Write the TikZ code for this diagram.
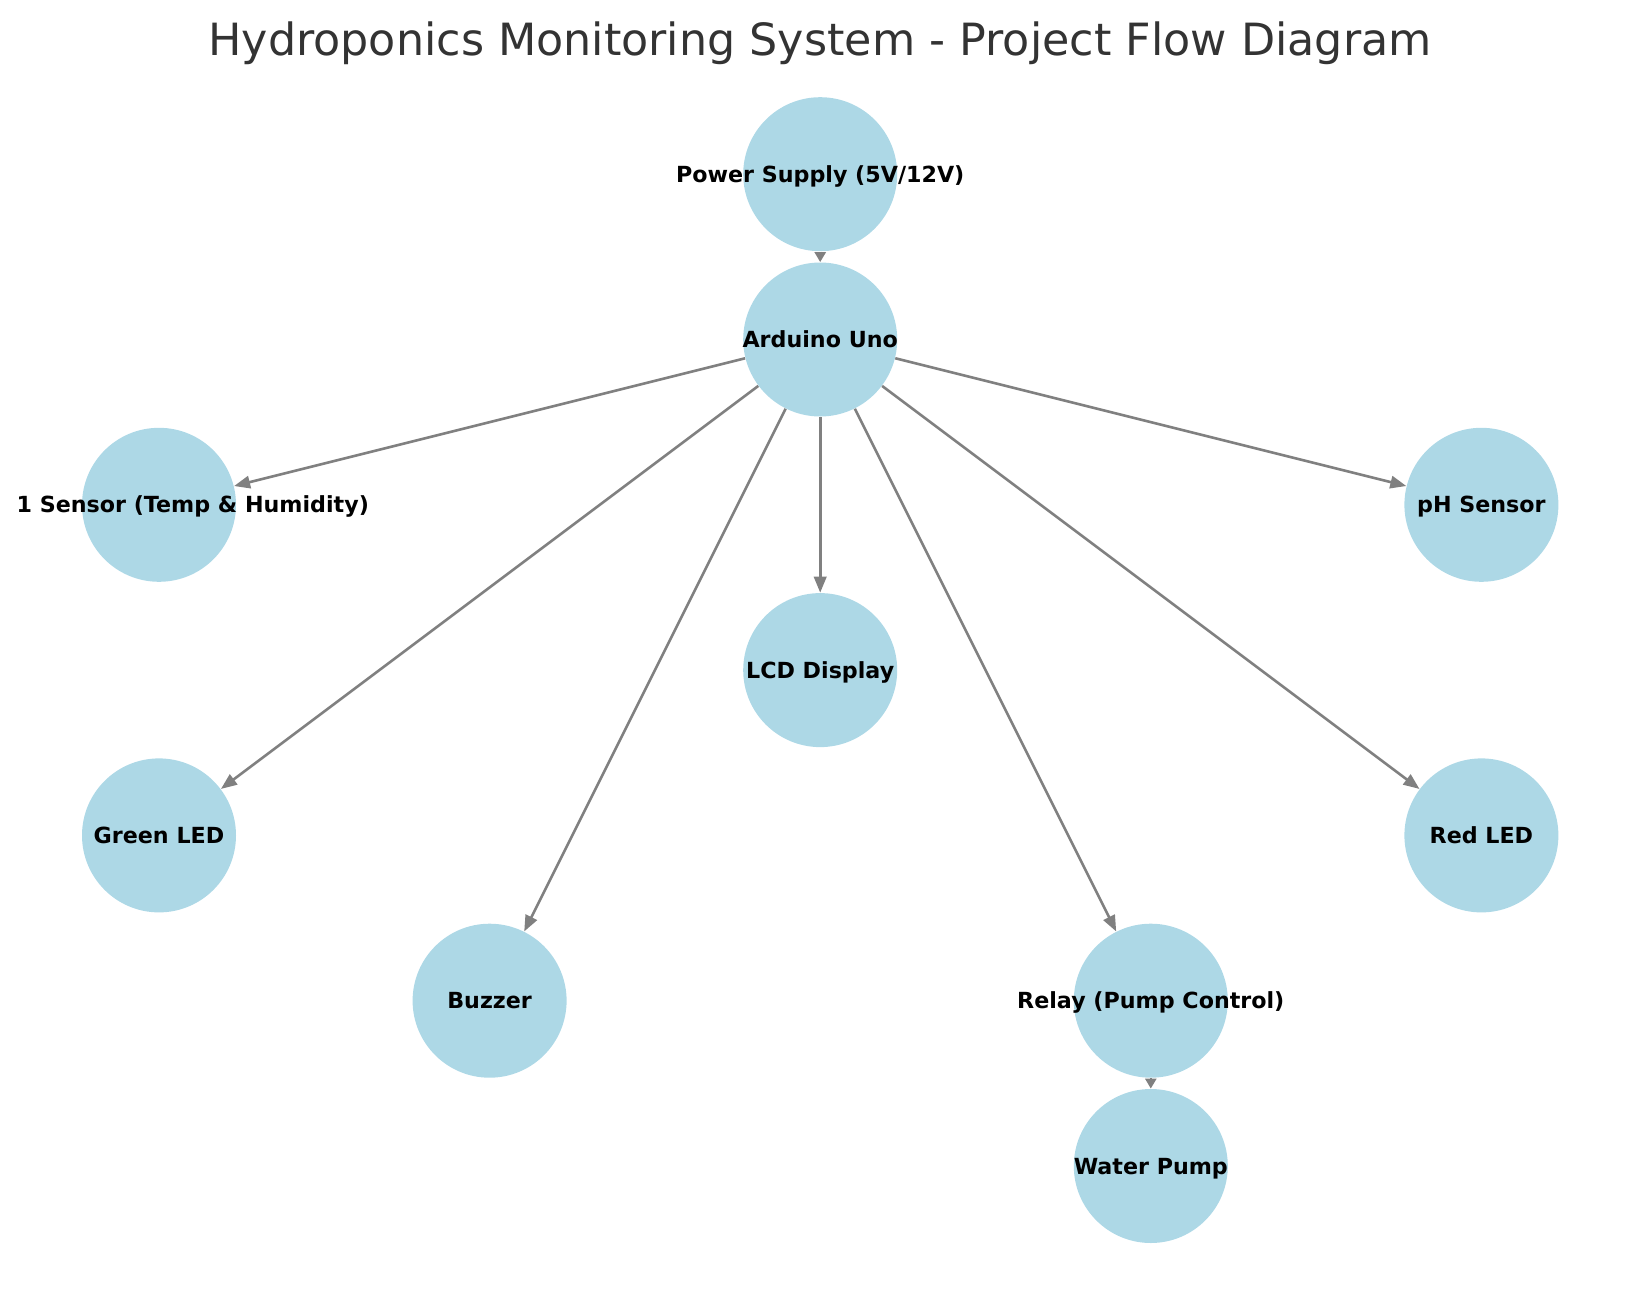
\documentclass[tikz,border=0pt]{standalone}
\usepackage{fontspec}
\setmainfont{DejaVu Sans}
\usetikzlibrary{arrows.meta}
\usepackage{xcolor}
\definecolor{partblue}{HTML}{ADD8E6}
\definecolor{titlegray}{HTML}{333333}
\def\colsep{330.6}
\def\rowsep{165.3}

\begin{document}
\begin{tikzpicture}[x=0.5pt,y=-0.5pt]
    \tikzstyle{part}=[circle,fill=partblue,minimum size=77pt,inner sep=0pt,text height=8pt,text depth=0pt,font=\bfseries\fontsize{11.1}{13}\selectfont]
    \tikzstyle{link}=[-{Triangle[length=8pt,width=6.2pt]},draw=gray,line width=1.3pt]
    \tikzstyle{short link}=[link,-{Triangle[length=5pt,width=5.5pt]}]

    \useasboundingbox (0,0) rectangle (1639,1290);

    \node[font=\fontsize{22.2}{26}\selectfont,text=titlegray,anchor=base] (title) at (820,55) {Hydroponics Monitoring System - Project Flow Diagram};

    \node[part] (power) at (159+2*\colsep,174.2) {\makebox[0pt]{Power Supply (5V/12V)}};
    \node[part] (uno) at (159+2*\colsep,174.2+\rowsep) {\makebox[0pt]{Arduino Uno}};
    \node[part] (dht) at (159,174.2+2*\rowsep) {\makebox[0pt]{\phantom{DHT1}1 Sensor (Temp \& Humidity)}};
    \node[part] (ph) at (159+4*\colsep,174.2+2*\rowsep) {\makebox[0pt]{pH Sensor}};
    \node[part] (lcd) at (159+2*\colsep,174.2+3*\rowsep) {\makebox[0pt]{LCD Display}};
    \node[part] (green) at (159,174.2+4*\rowsep) {\makebox[0pt]{Green LED}};
    \node[part] (red) at (159+4*\colsep,174.2+4*\rowsep) {\makebox[0pt]{Red LED}};
    \node[part] (buzzer) at (159+\colsep,174.2+5*\rowsep) {\makebox[0pt]{Buzzer}};
    \node[part] (relay) at (159+3*\colsep,174.2+5*\rowsep) {\makebox[0pt]{Relay (Pump Control)}};
    \node[part] (pump) at (159+3*\colsep,174.2+6*\rowsep) {\makebox[0pt]{Water Pump}};

    \draw[short link] (power) -- (uno);
    \foreach \target in {dht,ph,lcd,green,red,buzzer,relay}
        \draw[link] (uno) -- (\target);
    \draw[short link] (relay) -- (pump);
\end{tikzpicture}
\end{document}
